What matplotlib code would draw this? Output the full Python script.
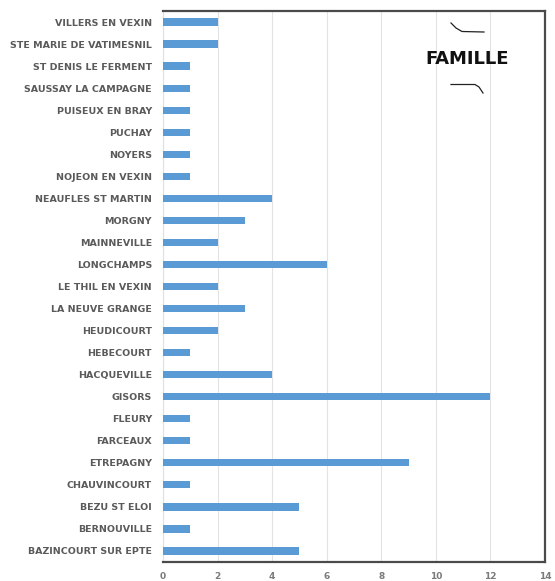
import matplotlib
matplotlib.use("Agg")
import matplotlib.pyplot as plt
from matplotlib.lines import Line2D

communes = [
    "VILLERS EN VEXIN", "STE MARIE DE VATIMESNIL", "ST DENIS LE FERMENT",
    "SAUSSAY LA CAMPAGNE", "PUISEUX EN BRAY", "PUCHAY", "NOYERS",
    "NOJEON EN VEXIN", "NEAUFLES ST MARTIN", "MORGNY", "MAINNEVILLE",
    "LONGCHAMPS", "LE THIL EN VEXIN", "LA NEUVE GRANGE", "HEUDICOURT",
    "HEBECOURT", "HACQUEVILLE", "GISORS", "FLEURY", "FARCEAUX",
    "ETREPAGNY", "CHAUVINCOURT", "BEZU ST ELOI", "BERNOUVILLE",
    "BAZINCOURT SUR EPTE",
]
familles = [2, 2, 1, 1, 1, 1, 1, 1, 4, 3, 2, 6, 2, 3, 2, 1, 4, 12, 1, 1, 9, 1, 5, 1, 5]
x_ticks = [0, 2, 4, 6, 8, 10, 12, 14]

W, H = 555, 581
fig = plt.figure(figsize=(W / 100, H / 100), dpi=100)
ax = fig.add_axes([163 / W, 1 - 562 / H, (545 - 163) / W, (562 - 11) / H])

pos = list(range(len(communes)))
ax.barh(pos, familles, height=0.33, color="#5b9bd5", zorder=3)
ax.set_ylim(len(communes) - 0.5, -0.5)
ax.set_xlim(0, 14)

ax.set_xticks(x_ticks)
ax.set_xticklabels([str(t) for t in x_ticks])
ax.set_yticks(pos)
ax.set_yticklabels(communes)
ax.tick_params(axis="y", length=0, pad=8, labelsize=6.8, labelcolor="#5a5a5a")
ax.tick_params(axis="x", length=0, pad=7, labelsize=6.5, labelcolor="#7a7a7a")
for lbl in ax.get_yticklabels():
    lbl.set_fontfamily("DejaVu Sans")
    lbl.set_fontweight("bold")
for lbl in ax.get_xticklabels():
    lbl.set_fontfamily("DejaVu Sans")
    lbl.set_fontweight("bold")

ax.grid(axis="x", color="#e3e3e3", linewidth=0.8, zorder=0)
ax.set_axisbelow(True)

for side in ("top", "right", "bottom"):
    ax.spines[side].set_color("#4a4a4a")
    ax.spines[side].set_linewidth(1.6)
ax.spines["left"].set_color("#e0e0e0")
ax.spines["left"].set_linewidth(0.8)

# Title with decorative strokes
fig.text(467 / W, 1 - 59 / H, "FAMILLE", ha="center", va="center",
         fontsize=13, fontweight="bold", color="#111111", family="DejaVu Sans")


def fig_pts(pts):
    return [p[0] / W for p in pts], [1 - p[1] / H for p in pts]


for pts in ([(451, 23), (456, 28), (462, 31.5), (484, 32)],
            [(451, 84.5), (475, 84.5), (479, 87), (483, 93)]):
    xs, ys = fig_pts(pts)
    fig.add_artist(Line2D(xs, ys, color="#222222", linewidth=0.9,
                          transform=fig.transFigure))

fig.savefig("out.png", dpi=100)
